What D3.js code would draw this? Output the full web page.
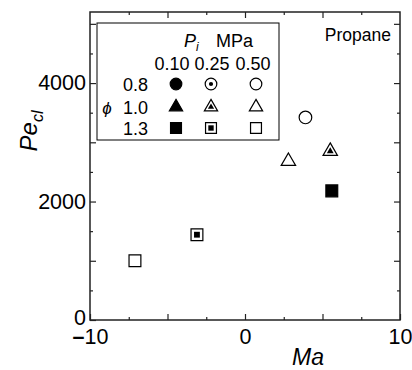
<!DOCTYPE html>
<html>
<head>
<meta charset="utf-8">
<script src="https://cdn.jsdelivr.net/npm/d3@7"></script>
<style>
  body { margin: 0; background: #fff; }
  svg { font-family: "Liberation Sans", Arial, sans-serif; }
</style>
</head>
<body>
<div id="chart"></div>
<script>
// data
var phiValues = [0.8, 1.0, 1.3];
var pressures = [0.10, 0.25, 0.50];
var shapes = ["circle", "triangle", "square"];   // one per phi
var ptPhi = [0.8, 1.0, 1.0, 1.3, 1.3, 1.3];
var ptP   = [0.50, 0.25, 0.50, 0.10, 0.25, 0.50];
var ptMa  = [3.9, 5.5, 2.8, 5.6, -3.1, -7.1];
var ptPe  = [3420, 2850, 2680, 2180, 1440, 1000];
var xLabelTicks = [-10, 0, 10];
var yLabelTicks = [0, 2000, 4000];

var width = 412, height = 370;
var margin = {left: 90, right: 12, top: 12, bottom: 50};

var svg = d3.select("#chart").append("svg")
  .attr("width", width).attr("height", height);

var x = d3.scaleLinear().domain([-10, 10]).range([margin.left, width - margin.right]);
var y = d3.scaleLinear().domain([0, 5200]).range([height - margin.bottom, margin.top]);

var axisColor = "#222";

// frame
svg.append("rect")
  .attr("x", x(-10)).attr("y", y(5200))
  .attr("width", x(10) - x(-10)).attr("height", y(0) - y(5200))
  .attr("fill", "none").attr("stroke", axisColor).attr("stroke-width", 1.5);

function styleAxis(g) {
  g.select(".domain").remove();
  g.selectAll(".tick line").attr("stroke", axisColor).attr("stroke-width", 1.2);
  g.selectAll(".tick text").attr("fill", "#000").style("font-size", "21.5px");
}

// bottom
var bx = svg.append("g").attr("transform", "translate(0," + y(0) + ")")
  .call(d3.axisBottom(x).tickValues([-10, -5, 0, 5, 10]).tickSize(-6).tickPadding(9)
    .tickFormat(function(d) { return xLabelTicks.indexOf(d) >= 0 ? Math.abs(d) : ""; }))
  .call(styleAxis);
// thick dash in front of the negative label, like the original
bx.selectAll(".tick text").filter(function(d) { return d < 0 && xLabelTicks.indexOf(d) >= 0; })
  .each(function(d) {
    var t = d3.select(this).text(null);
    t.append("tspan").style("font-weight", "bold").text("\u2013");
    t.append("tspan").text(Math.abs(d));
  });
svg.append("g").attr("transform", "translate(0," + y(0) + ")")
  .call(d3.axisBottom(x).tickValues([-7.5, -2.5, 2.5, 7.5]).tickSize(-3).tickFormat(""))
  .call(styleAxis);
// top
svg.append("g").attr("transform", "translate(0," + y(5200) + ")")
  .call(d3.axisTop(x).tickValues([-5, 0, 5]).tickSize(-6).tickFormat(""))
  .call(styleAxis);
svg.append("g").attr("transform", "translate(0," + y(5200) + ")")
  .call(d3.axisTop(x).tickValues([-7.5, -2.5, 2.5, 7.5]).tickSize(-3).tickFormat(""))
  .call(styleAxis);
// left
var ly = svg.append("g").attr("transform", "translate(" + x(-10) + ",0)")
  .call(d3.axisLeft(y).tickValues([0, 1000, 2000, 3000, 4000, 5000]).tickSize(-6).tickPadding(4)
    .tickFormat(function(d) { return yLabelTicks.indexOf(d) >= 0 ? d : ""; }))
  .call(styleAxis);
// the zero sits just above the x label, nudge it up a little
ly.selectAll(".tick text").filter(function(d) { return d === 0; }).attr("dy", "0.2em");
svg.append("g").attr("transform", "translate(" + x(-10) + ",0)")
  .call(d3.axisLeft(y).tickValues([500, 1500, 2500, 3500, 4500]).tickSize(-3).tickFormat(""))
  .call(styleAxis);
// right
svg.append("g").attr("transform", "translate(" + x(10) + ",0)")
  .call(d3.axisRight(y).tickValues([1000, 2000, 3000, 4000, 5000]).tickSize(-6).tickFormat(""))
  .call(styleAxis);
svg.append("g").attr("transform", "translate(" + x(10) + ",0)")
  .call(d3.axisRight(y).tickValues([500, 1500, 2500, 3500, 4500]).tickSize(-3).tickFormat(""))
  .call(styleAxis);

// axis titles
svg.append("text")
  .attr("x", 308).attr("y", 365)
  .attr("text-anchor", "middle")
  .style("font-size", "23px").style("font-style", "italic")
  .text("Ma");

var yt = svg.append("text")
  .attr("transform", "translate(37,131) rotate(-90)")
  .attr("text-anchor", "middle")
  .style("font-size", "24px").style("font-style", "italic");
yt.append("tspan").text("Pe");
yt.append("tspan").attr("dy", 6).style("font-size", "16px").text("cl");

svg.append("text")
  .attr("x", 391).attr("y", 41)
  .attr("text-anchor", "end")
  .style("font-size", "17.5px")
  .text("Propane");

// markers
var symType = {circle: d3.symbolCircle, triangle: d3.symbolTriangle, square: d3.symbolSquare};
var symSize = {circle: 125, triangle: 90, square: 140};
var innerSize = {circle: 16, triangle: 20, square: 34};

function drawMarker(g, shape, pIdx, scale) {
  var s = scale || 1;
  var outer = g.append("path")
    .attr("d", d3.symbol().type(symType[shape]).size(symSize[shape] * s)())
    .attr("stroke", "#000").attr("stroke-width", 1.2);
  if (pIdx === 0) {
    outer.attr("fill", "#000");
  } else {
    outer.attr("fill", "#fff");
    if (pIdx === 1) {
      g.append("path")
        .attr("d", d3.symbol().type(symType[shape]).size(innerSize[shape] * s)())
        .attr("fill", "#000");
    }
  }
}

ptMa.forEach(function(ma, i) {
  var shape = shapes[phiValues.indexOf(ptPhi[i])];
  var g = svg.append("g").attr("transform", "translate(" + x(ma) + "," + y(ptPe[i]) + ")");
  drawMarker(g, shape, pressures.indexOf(ptP[i]));
});

// legend
var lg = svg.append("g");
lg.append("rect")
  .attr("x", 97).attr("y", 23).attr("width", 182).attr("height", 117)
  .attr("fill", "#fff").attr("stroke", "#000").attr("stroke-width", 1);

var colX = [176, 211, 256];
var headX = [172, 212, 253];
var rowY = [84, 107, 128];

lg.append("text").attr("x", 184).attr("y", 47).style("font-size", "18px")
  .call(function(t) {
    t.append("tspan").style("font-style", "italic").text("P");
    t.append("tspan").attr("dy", 4).style("font-size", "12px").style("font-style", "italic").text("i");
  });
lg.append("text").attr("x", 216).attr("y", 47).style("font-size", "18px").text("MPa");

pressures.forEach(function(p, j) {
  lg.append("text")
    .attr("x", headX[j]).attr("y", 70)
    .attr("text-anchor", "middle")
    .style("font-size", "18px")
    .text(p.toFixed(2));
});

phiValues.forEach(function(phi, i) {
  lg.append("text")
    .attr("x", 148).attr("y", rowY[i] + 7)
    .attr("text-anchor", "end")
    .style("font-size", "18px")
    .text(phi.toFixed(1));
  pressures.forEach(function(p, j) {
    var g = lg.append("g").attr("transform", "translate(" + colX[j] + "," + rowY[i] + ")");
    drawMarker(g, shapes[i], j, 0.85);
  });
});

lg.append("text")
  .attr("x", 107).attr("y", rowY[1] + 7)
  .attr("text-anchor", "middle")
  .style("font-size", "17px").style("font-style", "italic")
  .text("\u03d5");
</script>
</body>
</html>
